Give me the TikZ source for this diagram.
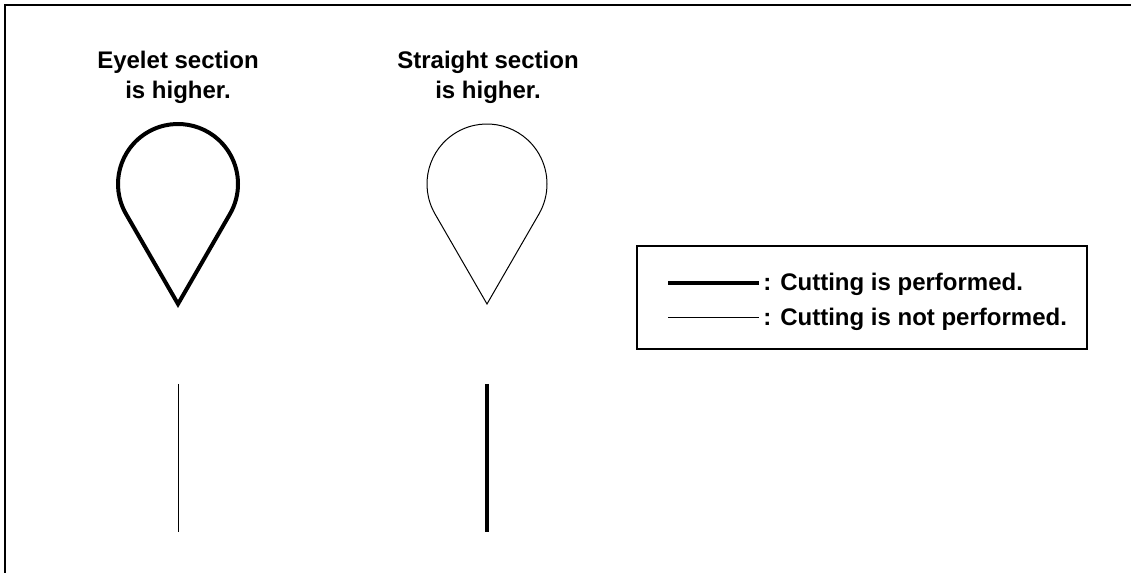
\documentclass[tikz,border=0pt]{standalone}
\usepackage{fontspec}
\setmainfont{Liberation Sans}
\usetikzlibrary{positioning}

\tikzset{
    cut/.style={line width=2pt},
    nocut/.style={line width=0.5pt},
    headline/.style={font=\bfseries\fontsize{12}{15}\selectfont, align=center},
    legtext/.style={font=\bfseries\fontsize{12}{15}\selectfont, anchor=base west, inner sep=0pt}
}

\begin{document}
\begin{tikzpicture}[x=0.5pt,y=0.5pt]
        \useasboundingbox (0,0) rectangle (1131,573);
        \draw[line width=1pt] (5,0) -- (5,568) -- (1131,568);

        % eyelet drops and straight stems
        \foreach \x/\drop/\stem in {178/cut/nocut, 487/nocut/cut} {
            \draw[\drop, line join=miter] (\x,269) -- (\x-51.96,359)
                arc[start angle=210, end angle=-30, radius=60] -- cycle;
            \draw[\stem] (\x,189) -- (\x,41);
        }
        \node[headline] (eyelet) at (178,496) {Eyelet section\\is higher.};
        \node[headline] (straight) at (488,496) {Straight section\\is higher.};

        % legend
        \draw[line width=0.8pt] (637,224) rectangle (1087,327);
        \node[legtext] (cutyes) at (763,282) {: Cutting is performed.};
        \node[legtext] (cutno) at (763,247) {: Cutting is not performed.};
        \draw[cut] (668,290) -- (759,290);
        \draw[nocut] (668,255) -- (759,255);
    \end{tikzpicture}
\end{document}
